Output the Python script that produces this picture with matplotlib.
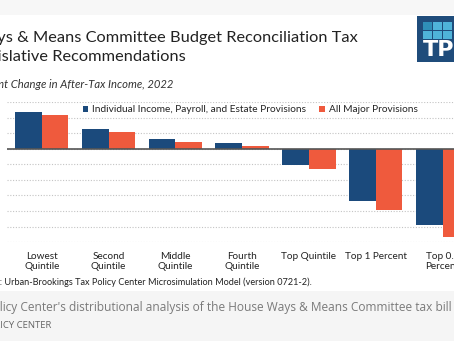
import numpy as np
import matplotlib
matplotlib.use("Agg")
import matplotlib.pyplot as plt
from matplotlib.patches import Rectangle

# data (percent change in after-tax income, 2022)
groups = ["Lowest\nQuintile", "Second\nQuintile", "Middle\nQuintile", "Fourth\nQuintile",
          "Top Quintile", "Top 1 Percent", "Top 0.1\nPercent"]
indiv = [4.67, 2.49, 1.24, 0.77, -2.05, -6.70, -9.78]
all_major = [4.36, 2.10, 0.82, 0.35, -2.64, -7.86, -11.30]
yticks = [-12, -10, -8, -6, -4, -2, 0, 2, 4, 6]

blue = "#1b4a7c"
orange = "#ef5a3d"

W, H = 454, 341
plt.rcParams["font.family"] = ["Lato", "DejaVu Sans"]
fig = plt.figure(figsize=(W / 100, H / 100), dpi=100)


def fx(px):
    return px / W


def fy(py):
    return 1 - py / H


# card backgrounds
fig.patches.append(Rectangle((0, fy(15)), 1, 15 / H, transform=fig.transFigure,
                             facecolor="#f7f7f7", edgecolor="none", zorder=0))
fig.patches.append(Rectangle((0, 0), 1, fy(291), transform=fig.transFigure,
                             facecolor="#f5f5f5", edgecolor="none", zorder=0))

# logo
fig.patches.append(Rectangle((fx(416.7), fy(62.3)), fx(50), 46.6 / H, transform=fig.transFigure,
                             facecolor="#1f4c7b", edgecolor="none", zorder=1))
for r, yy in enumerate([21.7, 30.7]):
    for c, xx in enumerate([423.3, 433.3, 443.3]):
        col = "#2f8fb8" if (r == 0 and c == 0) else "#4fb3d9"
        fig.patches.append(Rectangle((fx(xx), fy(yy + 7.8)), fx(8.2), 7.8 / H,
                                     transform=fig.transFigure, facecolor=col,
                                     edgecolor="none", zorder=2))
fig.text(fx(422.5), fy(50), "TPC", color="white", fontsize=16, fontweight="bold",
         family=["DejaVu Sans"], va="center", ha="left")

# titles (the card is cropped on the left, so lines start off-canvas)
x0 = fx(-28)
fig.text(x0, fy(38), "Ways & Means Committee Budget Reconciliation Tax",
         fontsize=11.8, color="#222222", va="center", ha="left")
fig.text(x0, fy(57), "Legislative Recommendations",
         fontsize=11.8, color="#222222", va="center", ha="left")
fig.text(x0, fy(84), "Percent Change in After-Tax Income, 2022",
         fontsize=8.1, style="italic", color="#333333", va="center", ha="left")

# chart
ax = fig.add_axes([fx(7), fy(242.1), fx(470.3), (242.1 - 102) / H])
x = np.arange(len(groups))
w = 0.4
ax.bar(x - w / 2, indiv, w, color=blue, label="Individual Income, Payroll, and Estate Provisions", zorder=3)
ax.bar(x + w / 2, all_major, w, color=orange, label="All Major Provisions", zorder=3)
ax.set_xlim(-0.52, 6.52)
ax.set_ylim(-12, 6)
ax.set_yticks(yticks)
ax.yaxis.grid(True, color="#c4c4c4", linestyle=(0, (1, 1.5)), linewidth=0.8)
ax.set_axisbelow(True)
ax.axhline(0, color="#555555", linewidth=1.2, zorder=4)
for s in ax.spines.values():
    s.set_visible(False)
ax.tick_params(axis="y", length=0, labelleft=False)
ax.tick_params(axis="x", length=0, pad=7)
ax.set_xticks(x)
ax.set_xticklabels(groups, fontsize=7.2, color="#222222", linespacing=1.1)
ax.patch.set_alpha(0)

leg = ax.legend(loc="center left", bbox_to_anchor=(fx(77.5), fy(109.7)),
                bbox_transform=fig.transFigure, ncol=2, frameon=False,
                fontsize=7.3, handlelength=0.55, handleheight=0.55,
                handletextpad=0.4, columnspacing=1.3, borderpad=0)
for t in leg.get_texts():
    t.set_color("#222222")

# source
fig.text(x0, fy(282), "Source: Urban-Brookings Tax Policy Center Microsimulation Model (version 0721-2).",
         fontsize=6.55, color="#222222", va="center", ha="left")

# card footer
f1 = fig.text(fx(452), fy(308), "Tax Policy Center's distributional analysis of the House Ways & Means Committee tax bill",
              fontsize=8.6, color="#7a7a7a", va="center", ha="right", family=["Open Sans", "DejaVu Sans"])
f2 = fig.text(0, fy(326), "TAX POLICY CENTER",
              fontsize=6.8, color="#666666", va="center", ha="left", family=["Open Sans", "DejaVu Sans"])

# line the footer caption up with the first footer line
fig.canvas.draw()
r = fig.canvas.get_renderer()
f2.set_x(f1.get_window_extent(r).x0 / W)

fig.savefig("out.png", dpi=100)
